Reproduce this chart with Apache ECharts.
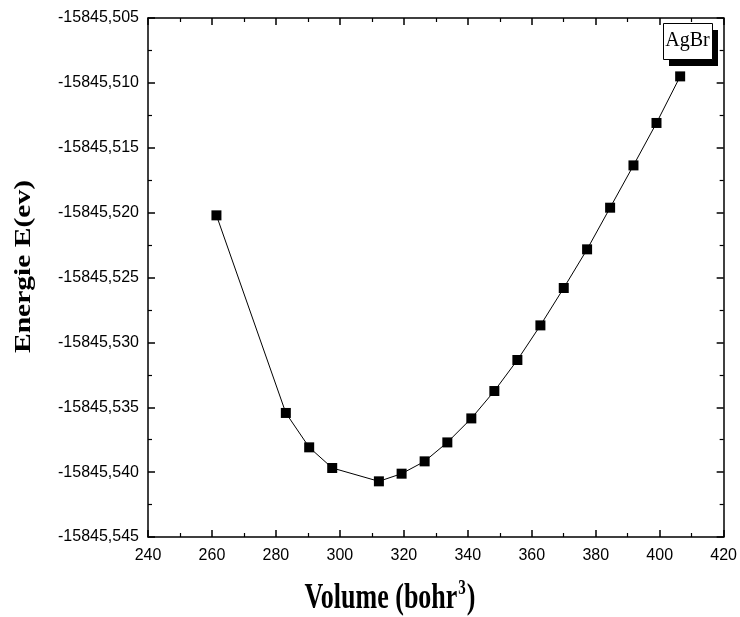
<!DOCTYPE html>
<html>
<head>
<meta charset="utf-8">
<script src="https://cdn.jsdelivr.net/npm/echarts@6/dist/echarts.min.js"></script>
<style>html,body{margin:0;padding:0;background:#fff}#c{width:740px;height:617px}</style>
</head>
<body>
<div id="c"></div>
<script>
var volume = [261.4, 283.1, 290.4, 297.6, 312.2, 319.3, 326.5, 333.6, 341.1, 348.3, 355.5, 362.7, 370.0, 377.3, 384.5, 391.8, 399.0, 406.4];
var energy = [-15845.52021, -15845.53544, -15845.53809, -15845.53968, -15845.54071, -15845.54012, -15845.53917, -15845.53771, -15845.53586, -15845.53375, -15845.53136, -15845.52869, -15845.52581, -15845.52283, -15845.51962, -15845.51636, -15845.51309, -15845.50950];
var seriesName = 'AgBr';
var xTitle = '{b|Volume (bohr}{sup|3}{b|)}';
var yTitle = 'Energie E(ev)';

var chart = echarts.init(document.getElementById('c'), null, {renderer: 'canvas'});
var pts = volume.map(function (v, i) { return [v, energy[i]]; });
var fmtY = function (v) { return v.toFixed(3).replace('.', ','); };
var axisCommon = {
  axisLine: {show: true, onZero: false, lineStyle: {color: '#000', width: 1.5}},
  axisTick: {show: true, inside: true, length: 7, lineStyle: {color: '#000', width: 1.5}},
  minorTick: {show: true, splitNumber: 2, length: 4, lineStyle: {color: '#000', width: 1.2}},
  splitLine: {show: false}
};
var option = {
  backgroundColor: '#fff',
  animation: false,
  grid: {left: 148, right: 15, top: 18, bottom: 80},
  xAxis: [
    Object.assign({
      type: 'value', min: 240, max: 420, interval: 20, position: 'bottom',
      axisLabel: {color: '#000', fontFamily: 'Liberation Sans', fontSize: 16, margin: 11}
    }, axisCommon),
    Object.assign({
      type: 'value', min: 240, max: 420, interval: 20, position: 'top',
      axisLabel: {show: false}
    }, axisCommon)
  ],
  yAxis: [
    Object.assign({
      type: 'value', min: -15845.545, max: -15845.505, interval: 0.005, position: 'left',
      axisLabel: {color: '#000', fontFamily: 'Liberation Sans', fontSize: 16, margin: 9, formatter: fmtY}
    }, axisCommon),
    Object.assign({
      type: 'value', min: -15845.545, max: -15845.505, interval: 0.005, position: 'right',
      axisLabel: {show: false}
    }, axisCommon)
  ],
  series: [{
    name: seriesName,
    type: 'line',
    data: pts,
    symbol: 'rect',
    symbolSize: 10,
    showSymbol: true,
    lineStyle: {color: '#000', width: 1},
    itemStyle: {color: '#000'}
  }],
  graphic: [
    {type: 'rect', left: 669, top: 30, shape: {width: 49, height: 36}, style: {fill: '#000'}, z: 10},
    {type: 'rect', left: 663, top: 23, shape: {width: 49, height: 36}, style: {fill: '#fff', stroke: '#000', lineWidth: 1}, z: 11},
    {type: 'text', x: 687.5, y: 41, style: {text: seriesName, font: '20px "Liberation Serif"', fill: '#000', align: 'center', verticalAlign: 'middle'}, z: 12},
    {type: 'text', x: 390, y: 599, scaleY: 1.35, style: {
      text: xTitle, fill: '#000', align: 'center', verticalAlign: 'middle',
      rich: {
        b: {fontFamily: 'Liberation Serif', fontWeight: 'bold', fontSize: 26, lineHeight: 30, fill: '#000'},
        sup: {fontFamily: 'Liberation Serif', fontWeight: 'bold', fontSize: 15, fill: '#000', verticalAlign: 'top', padding: [0, 1, 0, 1]}
      }
    }, z: 12},
    {type: 'text', x: 24, y: 266.5, rotation: Math.PI / 2, scaleX: 1.23, style: {
      text: yTitle, font: 'bold 24px "Liberation Serif"', fill: '#000', align: 'center', verticalAlign: 'middle'
    }, z: 12}
  ]
};
chart.setOption(option);
</script>
</body>
</html>
